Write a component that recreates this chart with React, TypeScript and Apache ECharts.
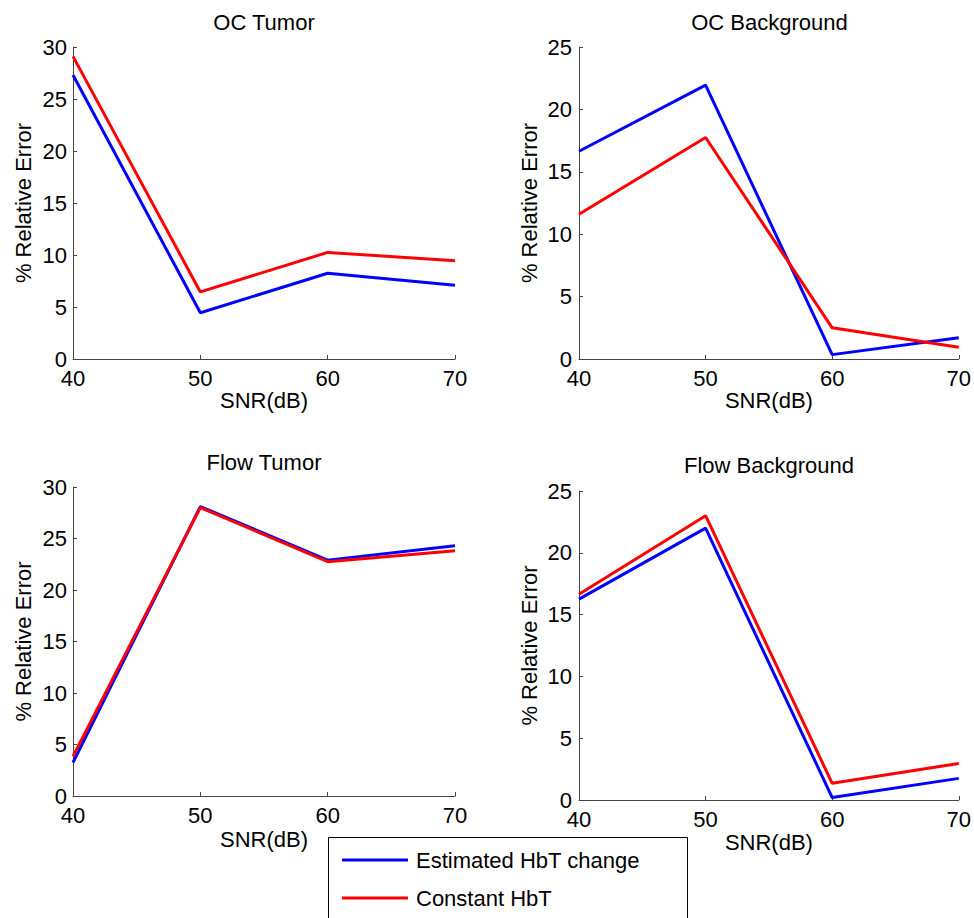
import React, { useEffect, useRef } from "react";
import * as echarts from "echarts";

const snr = [40, 50, 60, 70];
const xTicks = [40, 50, 60, 70];

const titles = ["OC Tumor", "OC Background", "Flow Tumor", "Flow Background"];
const seriesNames = ["Estimated HbT change", "Constant HbT"];

const ocTumorEst = [27.3, 4.45, 8.24, 7.1];
const ocTumorConst = [29.1, 6.45, 10.25, 9.45];
const ocBgEst = [16.65, 21.95, 0.35, 1.7];
const ocBgConst = [11.6, 17.75, 2.5, 0.95];
const flowTumorEst = [3.25, 28.1, 22.9, 24.3];
const flowTumorConst = [3.85, 28.0, 22.75, 23.8];
const flowBgEst = [16.25, 22.0, 0.2, 1.75];
const flowBgConst = [16.65, 23.0, 1.35, 2.95];

const yMax = [30, 25, 30, 25];

const FONT = "'Liberation Sans', Arial, Helvetica, sans-serif";

const panels = [
  { est: ocTumorEst, cst: ocTumorConst },
  { est: ocBgEst, cst: ocBgConst },
  { est: flowTumorEst, cst: flowTumorConst },
  { est: flowBgEst, cst: flowBgConst },
];

const grids = [
  { left: 73, top: 47, width: 382, height: 312 },
  { left: 579, top: 47, width: 381, height: 312 },
  { left: 73, top: 487, width: 382, height: 309 },
  { left: 579, top: 491, width: 380, height: 309 },
];
const titleTops = [11, 11, 451, 454];
const xNameGaps = [30, 30, 32, 31];

export default function App() {
  const ref = useRef<HTMLDivElement>(null);
  useEffect(() => {
    document.body.style.margin = "0";
    if (!ref.current) return;
    const chart = echarts.init(ref.current, undefined, { renderer: "svg" });
    const axisLineStyle = { color: "#444", width: 1 };
    const option: any = {
      animation: false,
      backgroundColor: "#fff",
      textStyle: { fontFamily: FONT },
      title: titles.map((t, i) => ({
        text: t,
        left: grids[i].left + grids[i].width / 2,
        top: titleTops[i],
        padding: 0,
        textAlign: "center",
        textVerticalAlign: "top",
        textStyle: { fontSize: 22, fontWeight: "normal", color: "#000", fontFamily: FONT },
      })),
      grid: grids.map((g) => ({ ...g, containLabel: false })),
      xAxis: grids.map((_, i) => ({
        type: "value",
        gridIndex: i,
        min: xTicks[0],
        max: xTicks[xTicks.length - 1],
        interval: 10,
        name: "SNR(dB)",
        nameLocation: "middle",
        nameGap: xNameGaps[i],
        nameTextStyle: { fontSize: 22, color: "#000", fontFamily: FONT },
        axisLine: { show: true, lineStyle: axisLineStyle },
        axisTick: { show: true, inside: true, length: 4, lineStyle: axisLineStyle },
        axisLabel: { fontSize: 22, lineHeight: 16, color: "#000", margin: 11, fontFamily: FONT },
        splitLine: { show: false },
      })),
      yAxis: grids.map((_, i) => ({
        type: "value",
        gridIndex: i,
        min: 0,
        max: yMax[i],
        interval: 5,
        name: "% Relative Error",
        nameLocation: "middle",
        nameGap: 39,
        nameTextStyle: { fontSize: 22, color: "#000", fontFamily: FONT },
        axisLine: { show: true, lineStyle: axisLineStyle },
        axisTick: { show: true, inside: true, length: 4, lineStyle: axisLineStyle },
        axisLabel: { fontSize: 22, lineHeight: 16, color: "#000", margin: i % 2 === 0 ? 6 : 7, fontFamily: FONT },
        splitLine: { show: false },
      })),
      legend: {
        orient: "vertical",
        left: 342,
        top: 849,
        padding: 0,
        icon: "rect",
        itemWidth: 66,
        itemHeight: 3,
        itemGap: 16,
        textStyle: { fontSize: 22, color: "#000", fontFamily: FONT, padding: [0, 0, 0, 3] },
        data: seriesNames,
        z: 10,
      },
      graphic: [
        {
          type: "rect",
          z: 5,
          shape: { x: 328.5, y: 837.5, width: 359, height: 120 },
          style: { fill: "#fff", stroke: "#000", lineWidth: 1 },
        },
      ],
      series: panels.flatMap((p, i) => [
        {
          type: "line",
          name: seriesNames[0],
          xAxisIndex: i,
          yAxisIndex: i,
          data: snr.map((x, k) => [x, p.est[k]]),
          symbol: "none",
          clip: false,
          lineStyle: { color: "#0000ff", width: 3 },
          itemStyle: { color: "#0000ff" },
        },
        {
          type: "line",
          name: seriesNames[1],
          xAxisIndex: i,
          yAxisIndex: i,
          data: snr.map((x, k) => [x, p.cst[k]]),
          symbol: "none",
          clip: false,
          lineStyle: { color: "#ff0000", width: 3 },
          itemStyle: { color: "#ff0000" },
        },
      ]),
    };
    chart.setOption(option);
    return () => chart.dispose();
  }, []);
  return <div ref={ref} style={{ width: 974, height: 918 }} />;
}
